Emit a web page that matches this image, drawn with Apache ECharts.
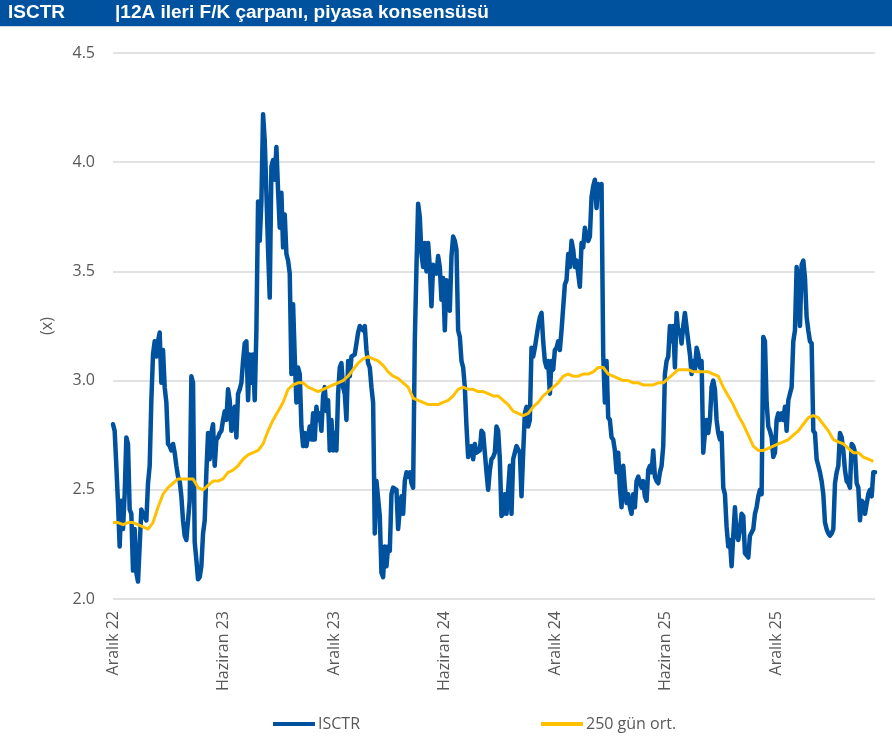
<!DOCTYPE html>
<html>
<head>
<meta charset="utf-8">
<script src="https://cdn.jsdelivr.net/npm/echarts@6/dist/echarts.min.js"></script>
<style>
html,body{margin:0;padding:0;background:#fff;}
#c{width:892px;height:736px;}
</style>
</head>
<body>
<div id="c"></div>
<script>
// Tick labels (one every 6 months, starting Aralık 2022)
const monthLabels = ['Aralık 22','Haziran 23','Aralık 23','Haziran 24','Aralık 24','Haziran 25','Aralık 25'];
const yTicks = [2.0, 2.5, 3.0, 3.5, 4.0, 4.5];
const seriesNames = ['ISCTR', '250 gün ort.'];
const titleCode = 'ISCTR';
const titleText = '|12A ileri F/K çarpanı, piyasa konsensüsü';

// Sampling interval of the series, in months since Aralık 22
const stepMonths = 0.0905;      // ISCTR samples
const maStepMonths = 0.2715;    // 250-day average samples

// ISCTR 12M forward P/E (x)
const isctr = [
2.80,2.77,2.61,2.44,2.24,2.45,2.32,2.48,2.74,2.71,
2.41,2.39,2.13,2.32,2.12,2.08,2.08,2.41,2.39,2.39,
2.36,2.53,2.61,2.91,3.12,3.18,3.11,3.18,3.22,2.99,
3.14,2.97,2.90,2.71,2.70,2.68,2.71,2.67,2.61,2.56,
2.54,2.47,2.36,2.29,2.27,2.27,2.45,3.02,2.99,2.26,
2.18,2.09,2.10,2.15,2.30,2.36,2.58,2.76,2.64,2.76,
2.80,2.61,2.73,2.74,2.76,2.77,2.82,2.86,2.82,2.96,
2.91,2.77,2.82,2.88,2.74,2.94,2.96,2.99,3.09,3.17,
3.18,2.91,3.12,2.99,3.12,2.91,3.23,
3.82,3.64,3.82,4.22,4.10,3.86,3.60,3.38,3.98,4.01,
3.92,4.07,3.87,3.70,3.86,3.61,3.76,3.58,3.55,3.49,
3.03,3.35,3.11,2.90,3.06,3.03,2.79,2.70,2.76,2.70,
2.70,2.79,2.73,2.85,2.73,2.88,2.82,2.85,2.77,2.93,
2.97,2.86,2.91,2.68,2.82,2.68,2.76,2.68,2.94,3.06,
3.08,2.97,2.94,2.82,3.09,3.02,3.11,3.11,3.12,3.12,
3.22,3.25,3.25,3.23,3.25,3.14,3.08,3.06,2.97,2.90,
2.30,2.54,2.54,2.38,2.12,2.10,2.24,2.15,2.24,2.22,
2.48,2.51,2.51,2.50,2.32,2.41,2.47,2.39,2.54,2.58,
2.56,2.58,2.53,2.51,3.18,3.52,3.81,3.75,3.58,3.52,
3.63,3.50,3.63,3.52,3.34,3.53,3.52,3.49,3.57,3.52,
3.37,3.47,3.23,3.46,3.34,3.32,3.57,3.66,3.64,3.60,
3.23,3.20,3.09,3.06,2.97,2.79,2.65,2.65,2.70,2.64,
2.71,2.67,2.67,2.68,2.77,2.76,2.67,2.58,2.50,2.59,
2.64,2.65,2.67,2.79,2.77,2.64,2.38,2.39,2.48,2.39,
2.39,2.61,2.39,2.64,2.67,2.70,2.70,2.67,2.47,2.67,
2.85,2.88,2.79,2.82,3.15,3.11,3.15,3.15,3.25,3.29,
3.31,3.18,3.09,3.06,3.09,2.94,3.09,3.05,3.14,3.15,
3.18,3.14,3.23,3.23,3.44,3.46,3.58,3.52,3.64,3.60,
3.52,3.55,3.49,3.43,3.63,3.61,3.70,3.66,3.64,3.66,
3.84,3.89,3.92,3.79,3.90,3.89,3.90,3.12,2.90,3.09,
2.83,2.82,2.74,2.73,2.68,2.58,2.67,2.51,2.42,2.61,
2.51,2.44,2.48,2.42,2.39,2.48,2.42,2.54,2.56,2.56,
2.51,2.54,2.47,2.45,2.59,2.61,2.58,2.68,2.56,2.54,
2.53,2.58,2.61,2.70,3.03,3.09,3.11,3.25,3.18,3.25,
3.06,3.31,3.22,3.23,3.17,3.25,3.31,3.31,3.18,3.12,
3.03,3.09,3.05,3.15,3.12,3.06,3.09,2.67,2.76,2.82,
2.76,2.82,2.97,3.00,2.96,2.82,2.76,2.73,2.76,2.51,
2.48,2.33,2.24,2.27,2.15,2.29,2.42,2.29,2.27,2.32,
2.39,2.38,2.21,2.21,2.19,2.29,2.29,2.32,2.39,2.42,
2.47,2.50,2.48,3.20,3.18,2.90,2.79,2.77,2.74,2.65,
2.67,2.82,2.85,2.82,2.85,2.82,2.88,2.77,2.91,2.94,
2.97,3.18,3.23,3.52,3.46,3.25,3.53,3.55,3.47,3.29,
3.23,3.18,3.17,2.77,2.76,2.64,2.61,2.58,2.54,2.48,
2.35,2.32,2.30,2.29,2.30,2.32,2.53,2.58,2.61,2.76,
2.74,2.68,2.59,2.54,2.53,2.51,2.71,2.70,2.67,2.53,
2.51,2.36,2.45,2.44,2.39,2.39,2.48,2.50,2.47,2.58,2.58
];

// 250-day moving average (x)
const ort250 = [
2.35,2.35,2.34,2.35,2.35,2.34,2.33,2.32,2.35,2.42,
2.48,2.51,2.53,2.55,2.55,2.55,2.55,2.51,2.50,2.52,
2.54,2.54,2.55,2.58,2.59,2.61,2.64,2.66,2.67,
2.68,2.71,2.77,2.82,2.86,2.90,2.96,2.98,2.99,2.99,
2.97,2.96,2.95,2.96,2.97,2.98,2.99,3.00,3.02,3.05,
3.08,3.10,3.11,3.10,3.09,3.07,3.04,3.02,3.01,2.99,
2.97,2.92,2.91,2.90,2.89,2.89,2.89,2.90,2.91,2.93,
2.96,2.97,2.96,2.96,2.95,2.95,2.94,2.93,2.93,2.91,
2.89,2.86,2.85,2.84,2.85,2.88,2.90,2.93,2.95,2.97,
2.99,3.02,3.03,3.02,3.02,3.03,3.03,3.04,3.06,3.06,
3.03,3.02,3.01,3.00,3.00,2.99,2.99,2.98,2.98,2.98,
2.99,2.99,3.01,3.03,3.05,3.05,3.05,3.04,3.04,3.04,
3.04,3.03,3.02,2.97,2.93,2.89,2.84,2.80,2.75,2.70,
2.68,2.68,2.69,2.70,2.71,2.72,2.73,2.75,2.77,2.80,
2.83,2.84,2.83,2.80,2.77,2.73,2.72,2.71,2.69,2.67,
2.67,2.65,2.64,2.63
];

const chart = echarts.init(document.getElementById('c'), null, {renderer: 'canvas'});
const labelColor = '#595959';
const font = '"Open Sans", "Noto Sans", sans-serif';
const xMax = (isctr.length - 1) * stepMonths;
const blue = '#00519E';
const yellow = '#FFC000';

chart.setOption({
  animation: false,
  backgroundColor: '#ffffff',
  graphic: [
    {type: 'rect', left: 0, top: 0, shape: {width: 892, height: 26}, style: {fill: blue}},
    {type: 'rect', left: 0, top: 26, shape: {width: 892, height: 1}, style: {fill: '#c9d6e6'}},
    {type: 'text', left: 8, top: 3, style: {text: titleCode, fill: '#fff', font: 'bold 19px "Liberation Sans", Arial, sans-serif'}},
    {type: 'text', left: 115, top: 3, style: {text: titleText, fill: '#fff', font: 'bold 19px "Liberation Sans", Arial, sans-serif'}}
  ],
  grid: {left: 113, right: 17, top: 53, bottom: 137, containLabel: false},
  legend: {
    data: [
      {name: seriesNames[0], icon: 'rect', itemStyle: {color: blue}},
      {name: seriesNames[1], icon: 'rect', itemStyle: {color: yellow}}
    ],
    top: 711,
    left: 268,
    itemWidth: 42,
    itemHeight: 4,
    itemGap: 181,
    textStyle: {color: labelColor, fontSize: 16, fontFamily: font, padding: [0, 0, 0, -2]}
  },
  xAxis: {
    type: 'value',
    min: 0,
    max: xMax,
    interval: 6,
    axisLine: {show: false},
    axisTick: {show: false},
    splitLine: {show: false},
    axisLabel: {
      rotate: 90,
      margin: 12,
      color: labelColor,
      fontSize: 16,
      fontFamily: font,
      showMaxLabel: false,
      formatter: function (v) {
        const k = Math.round(v / 6);
        return Math.abs(v / 6 - k) < 1e-6 && monthLabels[k] ? monthLabels[k] : '';
      }
    }
  },
  yAxis: {
    type: 'value',
    min: yTicks[0],
    max: yTicks[yTicks.length - 1],
    interval: 0.5,
    name: '(x)',
    nameLocation: 'middle',
    nameGap: 58,
    nameTextStyle: {color: labelColor, fontSize: 16, fontFamily: font},
    axisLine: {show: false},
    axisTick: {show: false},
    splitLine: {lineStyle: {color: '#D9D9D9', width: 1.5}},
    axisLabel: {
      margin: 18,
      color: labelColor,
      fontSize: 16,
      fontFamily: font,
      formatter: function (v) { return v.toFixed(1); }
    }
  },
  series: [
    {
      name: seriesNames[0],
      type: 'line',
      symbol: 'none',
      data: isctr.map(function (v, i) { return [i * stepMonths, v]; }),
      lineStyle: {color: blue, width: 4.5, join: 'round', cap: 'round'},
      itemStyle: {color: blue},
      z: 2
    },
    {
      name: seriesNames[1],
      type: 'line',
      symbol: 'none',
      data: ort250.map(function (v, j) { return [j * maStepMonths, v]; }),
      lineStyle: {color: yellow, width: 3, join: 'round'},
      itemStyle: {color: yellow},
      z: 3
    }
  ]
});
</script>
</body>
</html>
